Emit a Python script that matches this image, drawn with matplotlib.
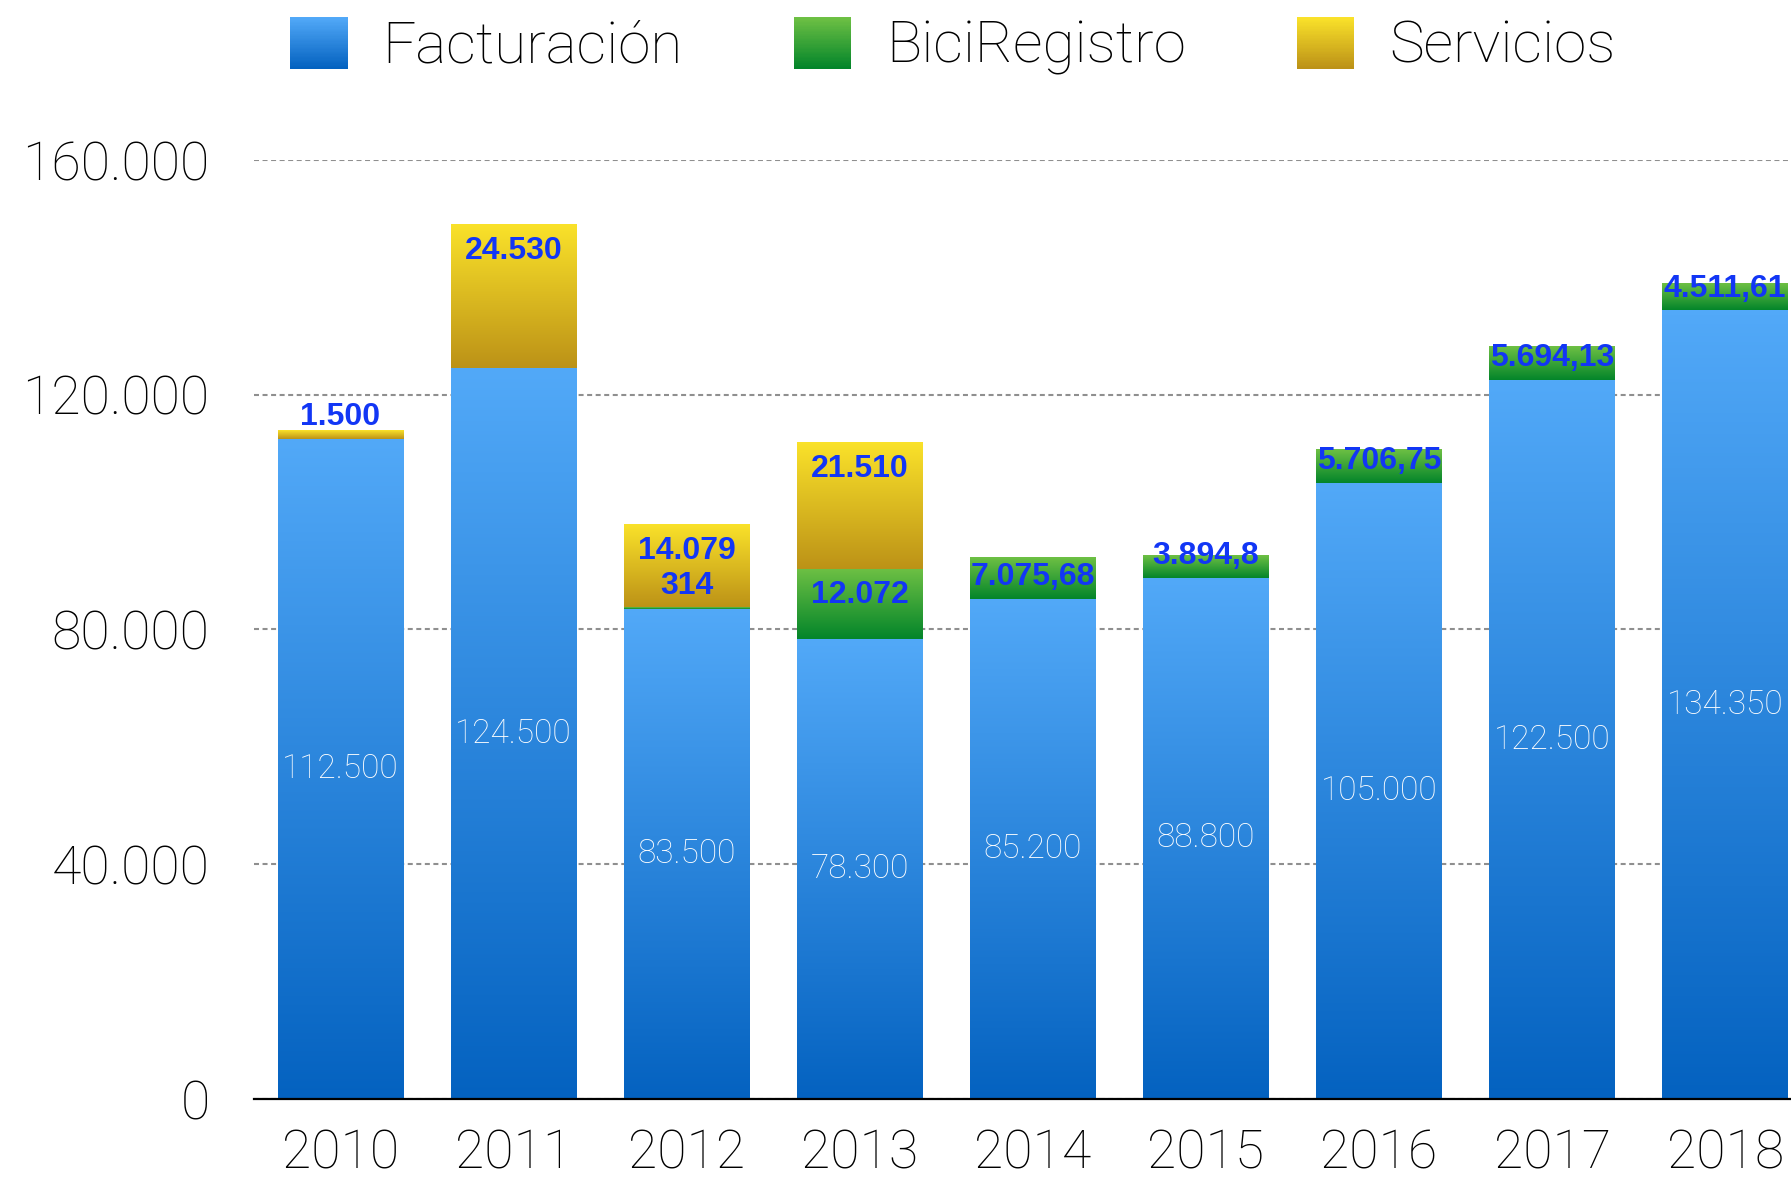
import numpy as np
import matplotlib.pyplot as plt
from matplotlib.colors import LinearSegmentedColormap
from matplotlib.patches import Rectangle
from matplotlib.legend_handler import HandlerBase

# Datos
anios = ['2010', '2011', '2012', '2013', '2014', '2015', '2016', '2017', '2018']
facturacion = [112500, 124500, 83500, 78300, 85200, 88800, 105000, 122500, 134350]
bici_registro = [0, 0, 314, 12072, 7075.68, 3894.8, 5706.75, 5694.13, 4511.61]
servicios = [1500, 24530, 14079, 21510, 0, 0, 0, 0, 0]
yticks = [0, 40000, 80000, 120000, 160000]

# Colores del degradado (arriba, abajo)
AZUL = ('#52A9F8', '#0462C0')
VERDE = ('#6EC044', '#03852A')
AMARILLO = ('#FAE22A', '#BC9217')
COLOR_ETIQ = '#1236F5'


def fmt(v):
    """Formato español: 3894.8 -> 3.894,8"""
    s = f"{v:,.2f}".rstrip('0').rstrip('.')
    return s.replace(',', '#').replace('.', ',').replace('#', '.')


def pintar_degradado(ax, barras, colores):
    cmap = LinearSegmentedColormap.from_list('g', [colores[1], colores[0]])
    grad = np.linspace(0, 1, 256).reshape(-1, 1)
    for r in barras:
        x, y = r.get_x(), r.get_y()
        w, h = r.get_width(), r.get_height()
        r.set_facecolor('none')
        if h <= 0:
            r.set_visible(False)
            continue
        ax.imshow(grad, cmap=cmap, extent=[x, x + w, y, y + h], origin='lower',
                  aspect='auto', zorder=2, interpolation='bilinear')


class HandlerDegradado(HandlerBase):
    def __init__(self, colores):
        super().__init__()
        self.cmap = LinearSegmentedColormap.from_list('g', [colores[1], colores[0]])

    def create_artists(self, legend, orig_handle, xdescent, ydescent,
                       width, height, fontsize, trans):
        n = 40
        arts = []
        for i in range(n):
            arts.append(Rectangle((-xdescent, -ydescent + height * i / n), width,
                                  height / n * 1.05, facecolor=self.cmap(i / (n - 1)),
                                  edgecolor='none', transform=trans))
        return arts


fig = plt.figure(figsize=(17.91, 11.84), dpi=100)
ax = fig.add_axes([0.1418, 0.0718, 0.8582, 0.7931])

x = np.arange(len(anios))
ancho = 0.726
fact = np.array(facturacion, dtype=float)
bici = np.array(bici_registro, dtype=float)
serv = np.array(servicios, dtype=float)

b1 = ax.bar(x, fact, ancho, zorder=3, edgecolor='none')
b2 = ax.bar(x, bici, ancho, bottom=fact, zorder=3, edgecolor='none')
b3 = ax.bar(x, serv, ancho, bottom=fact + bici, zorder=3, edgecolor='none')
pintar_degradado(ax, b1, AZUL)
pintar_degradado(ax, b2, VERDE)
pintar_degradado(ax, b3, AMARILLO)

ax.set_xlim(-0.5, 8.38)
ax.set_ylim(0, 160000)

# Etiquetas de Facturación (blancas, centradas)
for xi, v in zip(x, fact):
    ax.text(xi, v / 2, fmt(v), ha='center', va='center', color='white',
            fontsize=24, family='Roboto', weight='light', zorder=5)

# Etiquetas de segmentos superiores
px = 40000 / 205.5  # unidades de datos por píxel (aprox.)
d_arriba, d_abajo, salto = 23 * px, 19 * px, 31 * px
for i, xi in enumerate(x):
    y_serv = None
    if serv[i] > 0:
        base = fact[i] + bici[i]
        y_serv = max(base + serv[i] - d_arriba, base + d_abajo)
        ax.text(xi, y_serv, fmt(serv[i]), ha='center', va='center', color=COLOR_ETIQ,
                fontsize=23, family='Liberation Sans', weight='bold', zorder=5)
    if bici[i] > 0:
        if y_serv is not None and bici[i] < 20 * px:
            y_bici = y_serv - salto
        else:
            y_bici = max(fact[i] + bici[i] - d_arriba, fact[i] + d_abajo)
        ax.text(xi, y_bici, fmt(bici[i]), ha='center', va='center', color=COLOR_ETIQ,
                fontsize=23, family='Liberation Sans', weight='bold', zorder=5)

# Ejes
ax.set_xticks(x)
ax.set_xticklabels(anios)
ax.set_yticks(yticks)
ax.set_yticklabels([fmt(t) for t in yticks])
ax.tick_params(axis='both', length=0, labelsize=38.5)
ax.tick_params(axis='y', pad=32)
ax.tick_params(axis='x', pad=21)
for lab in ax.get_xticklabels() + ax.get_yticklabels():
    lab.set_family('Roboto')
    lab.set_weight('light')

for s in ['top', 'right', 'left']:
    ax.spines[s].set_visible(False)
ax.spines['bottom'].set_linewidth(1.6)
ax.spines['bottom'].set_color('black')
ax.spines['bottom'].set_zorder(6)

ax.yaxis.grid(True, color='#8f8f8f', linestyle=(0, (2.4, 1.7)), linewidth=1.5, zorder=1)
ax.set_axisbelow(True)

# Leyenda
proxies = [Rectangle((0, 0), 1, 1) for _ in range(3)]
leg = fig.legend(proxies, ['Facturación', 'BiciRegistro', 'Servicios'],
                 loc='center', bbox_to_anchor=(0.532, 0.961), ncol=3, frameon=False,
                 handlelength=0.98, handleheight=0.98,
                 handletextpad=0.6, columnspacing=1.9,
                 handler_map={proxies[0]: HandlerDegradado(AZUL),
                              proxies[1]: HandlerDegradado(VERDE),
                              proxies[2]: HandlerDegradado(AMARILLO)},
                 prop={'family': 'Roboto', 'weight': 'light', 'size': 42})

fig.savefig('out.png', dpi=100)
